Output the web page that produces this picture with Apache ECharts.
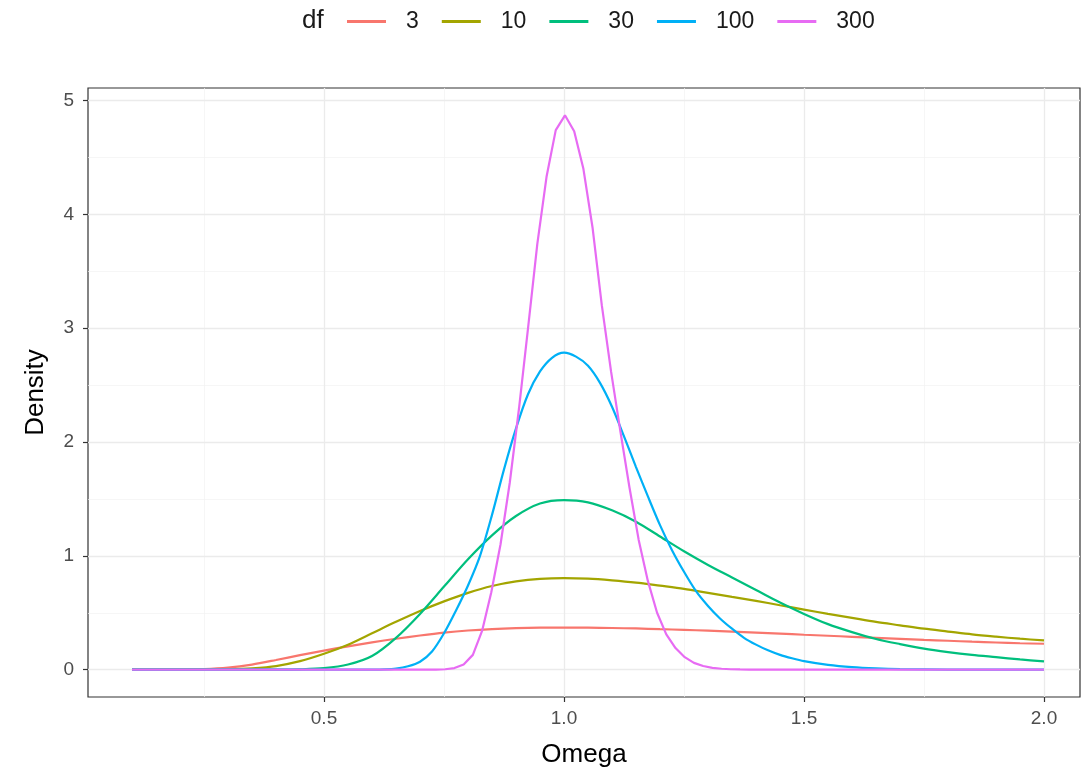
<!DOCTYPE html>
<html>
<head>
<meta charset="utf-8">
<script src="https://cdn.jsdelivr.net/npm/echarts@6/dist/echarts.min.js"></script>
<style>
  html, body { margin: 0; padding: 0; background: #ffffff; }
  #chart { width: 1089px; height: 778px; }
</style>
</head>
<body>
<div id="chart"></div>
<script>
// ---------------- data ----------------
const dfLevels = ['3', '10', '30', '100', '300'];
const lineColors = ['#F8766D', '#A3A500', '#00BF7D', '#00B0F6', '#E76BF3'];

// common coarse grid for the broad curves
const omegaCoarse = [0.1,0.15,0.2,0.25,0.3,0.35,0.4,0.45,0.5,
  0.55,0.6,0.65,0.7,0.75,0.8,0.85,0.9,0.95,1.0,
  1.05,1.1,1.15,1.2,1.25,1.3,1.35,1.4,1.45,1.5,
  1.55,1.6,1.65,1.7,1.75,1.8,1.85,1.9,1.95,2.0];

const density3 = [0,0,0.001,0.005,0.018,0.045,0.085,0.128,0.168,
  0.205,0.24,0.272,0.30,0.325,0.344,0.357,0.365,0.369,0.37,
  0.369,0.366,0.362,0.356,0.35,0.343,0.335,0.326,0.317,0.307,
  0.298,0.289,0.28,0.271,0.262,0.254,0.246,0.239,0.232,0.228];

const density10 = [0,0,0.0003,0.001,0.003,0.012,0.032,0.075,0.14,
  0.22,0.32,0.42,0.515,0.60,0.675,0.735,0.775,0.798,0.805,
  0.80,0.785,0.765,0.738,0.71,0.675,0.64,0.605,0.566,0.528,
  0.49,0.455,0.42,0.39,0.36,0.335,0.31,0.29,0.272,0.257];

const density30 = [0,0,0,0,0,0,0.0005,0.003,0.013,
  0.045,0.12,0.28,0.49,0.73,0.97,1.18,1.35,1.46,1.49,
  1.47,1.40,1.30,1.17,1.04,0.92,0.81,0.70,0.59,0.49,
  0.40,0.33,0.27,0.225,0.185,0.155,0.13,0.11,0.09,0.073];

const omega100 = [0.1,0.5,0.55,0.6,0.625,0.65,0.675,0.7,0.725,0.75,0.775,0.8,0.825,0.85,0.875,
  0.9,0.925,0.95,0.975,1.0,1.025,1.05,1.075,1.1,1.125,1.15,1.175,1.2,1.225,1.25,1.275,
  1.3,1.325,1.35,1.375,1.4,1.425,1.45,1.475,1.5,1.55,1.6,1.65,1.7,1.8,1.9,2.0];
const density100 = [0,0,0,0.001,0.003,0.01,0.03,0.07,0.16,0.32,0.52,0.74,1.0,1.36,1.76,
  2.12,2.42,2.62,2.74,2.785,2.75,2.67,2.52,2.31,2.05,1.78,1.52,1.27,1.05,0.86,0.69,
  0.56,0.45,0.36,0.28,0.22,0.17,0.13,0.10,0.075,0.042,0.022,0.011,0.005,0.001,0,0];

const omega300 = [0.1,0.7333,0.7525,0.7717,0.7909,0.8101,0.8293,0.8485,0.8677,0.8869,0.9061,
  0.9253,0.9444,0.9636,0.9828,1.0020,1.0212,1.0404,1.0596,1.0788,1.0980,1.1172,1.1364,
  1.1556,1.1747,1.1939,1.2131,1.2323,1.2515,1.2707,1.2899,1.3091,1.3283,1.3475,1.3667,
  1.3859,1.5,2.0];
const density300 = [0,0.001,0.004,0.014,0.045,0.13,0.34,0.68,1.10,1.64,2.29,
  3.01,3.74,4.33,4.74,4.87,4.73,4.40,3.88,3.20,2.62,2.10,1.60,
  1.14,0.78,0.50,0.31,0.19,0.11,0.06,0.032,0.016,0.008,0.004,0.002,
  0.001,0,0];

const xTicks = [0.5, 1.0, 1.5, 2.0];
const xMinorGrid = [0.25, 0.75, 1.25, 1.75];
const yTicks = [0, 1, 2, 3, 4, 5];
const yMinorGrid = [0.5, 1.5, 2.5, 3.5, 4.5];

// ---------------- chart ----------------
const zip = (xs, ys) => xs.map((x, i) => [x, ys[i]]);
const seriesData = [
  zip(omegaCoarse, density3),
  zip(omegaCoarse, density10),
  zip(omegaCoarse, density30),
  zip(omega100, density100),
  zip(omega300, density300)
];

const FONT = '"Liberation Sans", Arial, Helvetica, sans-serif';
const gridMajor = { color: '#EBEBEB', width: 1.3, type: 'solid' };
const gridMinor = { color: '#F2F2F2', width: 0.7, type: 'solid' };

const gridSeries = {
  name: '__grid',
  type: 'line',
  data: [],
  silent: true,
  z: 0,
  markLine: {
    z: 0,
    silent: true,
    symbol: ['none', 'none'],
    label: { show: false },
    emphasis: { disabled: true },
    animation: false,
    data: [
      ...xMinorGrid.map(v => ({ xAxis: v, lineStyle: gridMinor })),
      ...yMinorGrid.map(v => ({ yAxis: v, lineStyle: gridMinor })),
      ...xTicks.map(v => ({ xAxis: v, lineStyle: gridMajor })),
      ...yTicks.map(v => ({ yAxis: v, lineStyle: gridMajor }))
    ]
  }
};

const lineSeries = dfLevels.map((name, i) => ({
  name: name,
  type: 'line',
  data: seriesData[i],
  showSymbol: false,
  symbol: 'none',
  smooth: i === 4 ? false : 0.3,
  z: 10 + i,
  lineStyle: { color: lineColors[i], width: 2.2 },
  itemStyle: { color: lineColors[i] },
  emphasis: { disabled: true }
}));

const chart = echarts.init(document.getElementById('chart'), null, { renderer: 'canvas' });
chart.setOption({
  animation: false,
  backgroundColor: '#ffffff',
  textStyle: { fontFamily: FONT },
  grid: {
    left: 88, top: 88, right: 9, bottom: 81,
    show: true, borderColor: '#333333', borderWidth: 1.2, backgroundColor: '#ffffff'
  },
  legend: {
    data: dfLevels,
    left: 347,
    top: 10,
    padding: 0,
    icon: 'rect',
    itemWidth: 39,
    itemHeight: 3,
    itemGap: 23,
    textStyle: { fontFamily: FONT, fontSize: 23, color: '#1a1a1a', padding: [0, 0, 0, 15] },
    selectedMode: false
  },
  graphic: [{
    type: 'text',
    left: 302,
    top: 8,
    style: { text: 'df', fontFamily: FONT, fontSize: 26, fill: '#1a1a1a' }
  }],
  xAxis: {
    type: 'value',
    position: 'bottom',
    min: 0.0083,
    max: 2.075,
    name: 'Omega',
    nameLocation: 'middle',
    nameGap: 45,
    nameTextStyle: { fontFamily: FONT, fontSize: 26, color: '#000000' },
    axisLine: { show: false, onZero: false },
    axisTick: { show: true, customValues: xTicks, length: 5, lineStyle: { color: '#333333', width: 1.2 } },
    axisLabel: {
      customValues: xTicks,
      margin: 12,
      fontFamily: FONT, fontSize: 19, color: '#4D4D4D',
      formatter: v => v.toFixed(1)
    },
    splitLine: { show: false },
    minorSplitLine: { show: false }
  },
  yAxis: {
    type: 'value',
    position: 'left',
    min: -0.24,
    max: 5.11,
    name: 'Density',
    nameLocation: 'middle',
    nameRotate: 90,
    nameGap: 39,
    nameTextStyle: { fontFamily: FONT, fontSize: 26, color: '#000000' },
    axisLine: { show: false, onZero: false },
    axisTick: { show: true, customValues: yTicks, length: 5, lineStyle: { color: '#333333', width: 1.2 } },
    axisLabel: {
      customValues: yTicks,
      margin: 14,
      fontFamily: FONT, fontSize: 19, color: '#4D4D4D',
      formatter: v => String(Math.round(v))
    },
    splitLine: { show: false },
    minorSplitLine: { show: false }
  },
  series: [gridSeries, ...lineSeries]
});
</script>
</body>
</html>
